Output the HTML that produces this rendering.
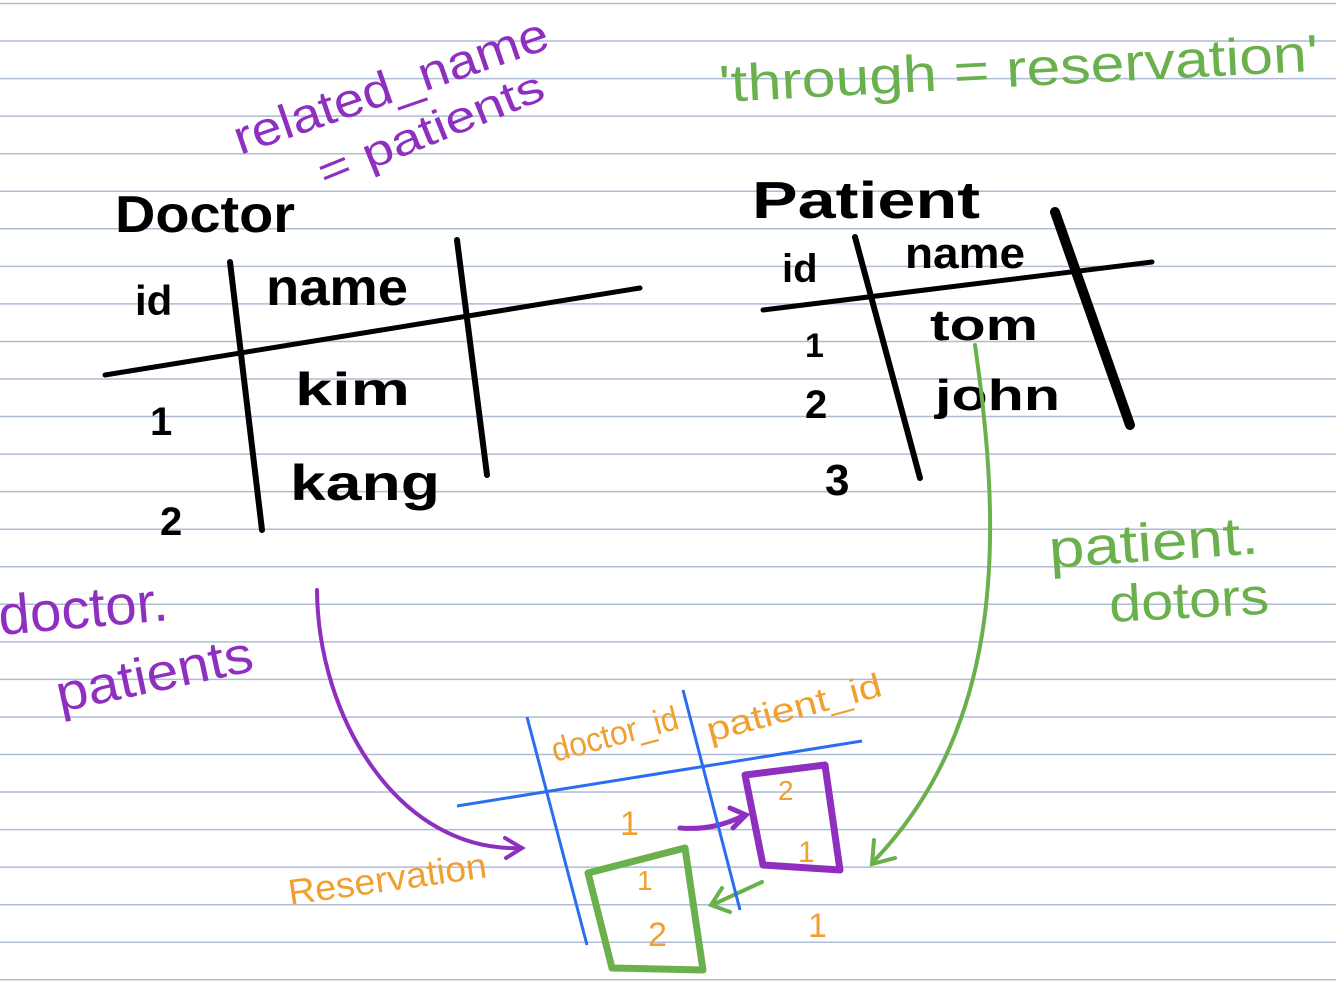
<!DOCTYPE html>
<html><head><meta charset="utf-8"><style>
html,body{margin:0;padding:0;background:#fff;width:1336px;height:1004px;overflow:hidden}
svg text{font-family:"Liberation Sans",sans-serif}
</style></head><body>
<svg id="note" width="1336" height="1004" viewBox="0 0 1336 1004" xmlns="http://www.w3.org/2000/svg">
<g id="rules"></g>
<g fill="#000" font-weight="bold">
<text x="115" y="232" font-size="52" textLength="180" lengthAdjust="spacingAndGlyphs">Doctor</text>
<text x="135" y="315" font-size="42">id</text>
<text x="266" y="305" font-size="52" textLength="142" lengthAdjust="spacingAndGlyphs">name</text>
<text x="295" y="405" font-size="46" textLength="115" lengthAdjust="spacingAndGlyphs">kim</text>
<text x="290" y="500" font-size="50" textLength="150" lengthAdjust="spacingAndGlyphs">kang</text>
<text x="150" y="435" font-size="40">1</text>
<text x="160" y="535" font-size="40">2</text>
<path d="M105,375 L640,288" stroke="#000" stroke-width="5" fill="none" stroke-linecap="round"/>
<path d="M230,262 L262,530" stroke="#000" stroke-width="6" fill="none" stroke-linecap="round"/>
<path d="M457,240 L487,475" stroke="#000" stroke-width="6" fill="none" stroke-linecap="round"/>
</g>
<g fill="#000" font-weight="bold">
<text x="752" y="218" font-size="52" textLength="228" lengthAdjust="spacingAndGlyphs">Patient</text>
<text x="782" y="282" font-size="40">id</text>
<text x="905" y="268" font-size="44" textLength="120" lengthAdjust="spacingAndGlyphs">name</text>
<text x="930" y="340" font-size="44" textLength="108" lengthAdjust="spacingAndGlyphs">tom</text>
<text x="935" y="410" font-size="44" textLength="125" lengthAdjust="spacingAndGlyphs">john</text>
<text x="805" y="357" font-size="34">1</text>
<text x="805" y="418" font-size="40">2</text>
<text x="825" y="495" font-size="44">3</text>
<path d="M763,310 L1152,262" stroke="#000" stroke-width="5" fill="none" stroke-linecap="round"/>
<path d="M855,237 L920,478" stroke="#000" stroke-width="6" fill="none" stroke-linecap="round"/>
<path d="M1055,212 L1130,425" stroke="#000" stroke-width="10" fill="none" stroke-linecap="round"/>
</g>
<g fill="#8e2fc0">
<text x="240" y="155" font-size="48" transform="rotate(-19 240 155)" textLength="330" lengthAdjust="spacingAndGlyphs">related_name</text>
<text x="325" y="188" font-size="44" transform="rotate(-22 325 188)" textLength="240" lengthAdjust="spacingAndGlyphs">= patients</text>
<text x="0" y="635" font-size="56" transform="rotate(-5 0 635)" textLength="170" lengthAdjust="spacingAndGlyphs">doctor.</text>
<text x="60" y="712" font-size="52" transform="rotate(-12 60 712)" textLength="200" lengthAdjust="spacingAndGlyphs">patients</text>
<path d="M317,590 C318,720 400,852 520,848 M505,838 L522,848 L506,858" stroke="#8e2fc0" stroke-width="4" fill="none" stroke-linecap="round"/>
<path d="M680,828 C705,830 725,825 745,815 M730,808 L746,815 L733,828" stroke="#8e2fc0" stroke-width="5" fill="none" stroke-linecap="round"/>
<path d="M745,775 L825,765 L840,870 L763,865 Z" stroke="#8e2fc0" stroke-width="7" fill="none" stroke-linejoin="round"/>
</g>
<g fill="#6ab04c">
<text x="720" y="102" font-size="52" transform="rotate(-3 720 102)" textLength="600" lengthAdjust="spacingAndGlyphs">'through = reservation'</text>
<text x="1050" y="568" font-size="54" transform="rotate(-4 1050 568)" textLength="210" lengthAdjust="spacingAndGlyphs">patient.</text>
<text x="1110" y="622" font-size="52" transform="rotate(-3 1110 622)" textLength="160" lengthAdjust="spacingAndGlyphs">dotors</text>
<path d="M975,345 C1000,520 1010,720 873,862 M874,840 L872,864 L895,858" stroke="#6ab04c" stroke-width="4" fill="none" stroke-linecap="round"/>
<path d="M762,882 L712,905 M722,888 L711,905 L730,912" stroke="#6ab04c" stroke-width="4" fill="none" stroke-linecap="round"/>
<path d="M588,873 L685,848 L703,970 L612,968 Z" stroke="#6ab04c" stroke-width="7" fill="none" stroke-linejoin="round"/>
</g>
<g fill="#f0a030">
<path d="M527,717 L587,945" stroke="#2a6ef0" stroke-width="3" fill="none"/>
<path d="M683,690 L740,910" stroke="#2a6ef0" stroke-width="3" fill="none"/>
<path d="M457,806 L862,741" stroke="#2a6ef0" stroke-width="3" fill="none"/>
<text x="555" y="762" font-size="34" transform="rotate(-15 555 762)" textLength="130" lengthAdjust="spacingAndGlyphs">doctor_id</text>
<text x="710" y="742" font-size="34" transform="rotate(-15 710 742)" textLength="180" lengthAdjust="spacingAndGlyphs">patient_id</text>
<text x="290" y="905" font-size="36" transform="rotate(-8 290 905)" textLength="200" lengthAdjust="spacingAndGlyphs">Reservation</text>
<text x="620" y="835" font-size="34">1</text>
<text x="637" y="890" font-size="28">1</text>
<text x="648" y="946" font-size="34">2</text>
<text x="778" y="800" font-size="28">2</text>
<text x="798" y="862" font-size="30">1</text>
<text x="808" y="937" font-size="34">1</text>
</g>
</svg>
<script>
const ruleYs = [];
for (let i = 0; i < 27; i++) ruleYs.push(3.5 + i * 37.55);
const g = document.getElementById('rules');
ruleYs.forEach(y => {
  const l = document.createElementNS('http://www.w3.org/2000/svg', 'line');
  l.setAttribute('x1', 0); l.setAttribute('x2', 1336);
  l.setAttribute('y1', y); l.setAttribute('y2', y);
  l.setAttribute('stroke', '#aebcd5'); l.setAttribute('stroke-width', '1.5');
  
  
  g.appendChild(l);
});
</script>
</body></html>
